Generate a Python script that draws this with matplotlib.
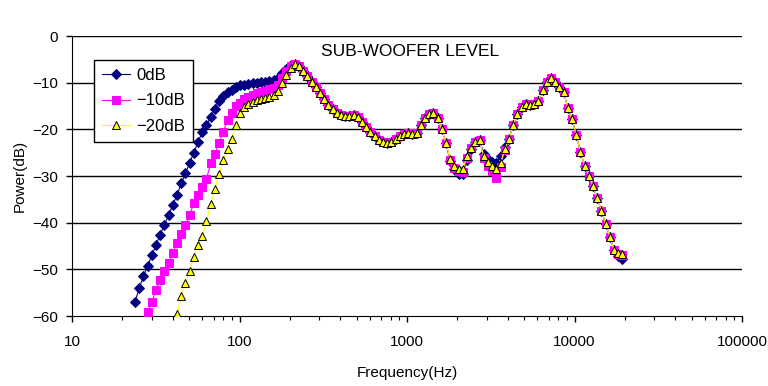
import matplotlib
matplotlib.use('Agg')
import matplotlib.pyplot as plt
from matplotlib.ticker import LogLocator, FixedLocator, NullFormatter

# 周波数 (1/12 oct)
freq = [20.0, 21.2, 22.4, 23.8, 25.2, 26.7, 28.3, 30.0, 31.7, 33.6, 35.6, 37.8,
        40.0, 42.4, 44.9, 47.6, 50.4, 53.4, 56.6, 59.9, 63.5, 67.3, 71.3, 75.5,
        80.0, 84.8, 89.8, 95.1, 100.8, 106.8, 113.1, 119.9, 127.0, 134.5, 142.5, 151.0,
        160.0, 169.5, 179.6, 190.3, 201.6, 213.6, 226.3, 239.7, 254.0, 269.1, 285.1, 302.0,
        320.0, 339.0, 359.2, 380.5, 403.2, 427.1, 452.5, 479.5, 508.0, 538.2, 570.2, 604.1,
        640.0, 678.0, 718.4, 761.1, 806.3, 854.3, 905.1, 958.9, 1016, 1076, 1140, 1208,
        1280, 1356, 1437, 1522, 1613, 1709, 1810, 1918, 2032, 2153, 2281, 2416,
        2560, 2712, 2874, 3044, 3225, 3417, 3620, 3836, 4064, 4305, 4561, 4833,
        5120, 5424, 5747, 6089, 6451, 6834, 7241, 7671, 8127, 8611, 9123, 9665,
        10240, 10849, 11494, 12177, 12902, 13669, 14482, 15343, 16255, 17222, 18246, 19331]

# low frequency part of each series (until ~214 Hz)
low_0db = [-57.0, -54.0, -51.5, -49.2, -47.0, -44.8, -42.6, -40.5, -38.3, -36.2,
           -34.0, -31.6, -29.4, -27.2, -25.0, -22.7, -20.6, -19.1, -17.4, -15.6,
           -13.9, -12.9, -12.1, -11.6, -11.0, -10.6, -10.4, -10.2, -10.1, -10.0,
           -9.9, -9.8, -9.7, -9.5, -9.0, -8.0, -7.0, -6.3, -5.9]
low_10db = [-59.2, -57.0, -54.4, -52.2, -50.3, -48.6, -46.5, -44.4, -42.4, -40.6,
            -38.3, -35.8, -34.0, -32.4, -30.6, -27.3, -25.2, -23.0, -20.5, -18.0,
            -16.5, -15.1, -14.4, -13.6, -13.0, -12.6, -12.3, -12.0, -11.7, -11.4,
            -11.1, -10.4, -9.0, -7.4, -6.5, -6.0]
low_20db = [-59.6, -55.8, -53.0, -50.3, -47.3, -44.8, -42.8, -39.7, -36.0, -32.7,
            -29.6, -26.6, -24.2, -22.0, -19.0, -16.6, -15.2, -14.5, -14.1, -13.8,
            -13.5, -13.3, -13.0, -12.7, -11.8, -10.0, -8.3, -6.8, -6.1]

# shared part 226 Hz - 1.7 kHz
common_a = [-6.4, -7.4, -8.6, -9.8, -11.0, -12.2, -13.6, -14.8, -15.7, -16.5,
            -16.9, -17.2, -17.1, -16.9, -17.3, -18.4, -19.6, -20.6, -21.5, -22.2,
            -22.7, -22.9, -22.7, -22.1, -21.4, -20.9, -20.8, -20.9, -20.7, -19.1,
            -17.5, -16.7, -16.5, -17.6, -20.0, -22.9]

# dips 1.8 kHz - 4 kHz
dips_0db = [-26.8, -28.6, -29.5, -29.6, -26.5, -24.2, -22.8, -22.3, -25.2, -26.4,
            -27.0, -27.3, -25.8, -23.8, -22.0]
dips_10db = [-26.6, -28.2, -29.0, -29.2, -26.2, -24.1, -22.7, -22.2, -26.2, -27.8,
             -29.0, -30.4, -28.0, -24.4, -22.0]
dips_20db = [-26.4, -27.9, -28.5, -28.6, -25.8, -24.0, -22.8, -22.3, -25.8, -27.0,
             -27.8, -28.6, -27.2, -24.2, -22.0]

# shared part 4.3 kHz - 17 kHz
common_b = [-19.0, -16.8, -15.2, -14.6, -14.7, -14.6, -14.0, -11.6, -9.8, -9.0,
            -9.8, -10.9, -12.0, -15.4, -17.8, -21.2, -24.8, -27.9, -29.9, -32.1,
            -34.8, -37.4, -40.2, -43.0, -45.9]

end_0db = [-47.2, -47.8]
end_10db = [-46.7, -47.0]
end_20db = [-46.5, -46.8]

series = [
    ('0dB', low_0db + common_a + dips_0db + common_b + end_0db, '#000080', 'D', '#000080', 5),
    ('\u221210dB', low_10db + common_a + dips_10db + common_b + end_10db, '#FF00FF', 's', '#FF00FF', 5.5),
    ('\u221220dB', low_20db + common_a + dips_20db + common_b + end_20db, '#FFFF00', '^', 'black', 6),
]

plt.rcParams['font.family'] = ['Liberation Sans', 'DejaVu Sans']

fig = plt.figure(figsize=(7.68, 3.86), dpi=100)
ax = fig.add_axes([72 / 768, 1 - 316 / 386, 670 / 768, 280 / 386])

for name, db, color, marker, edge, ms in series:
    f = freq[len(freq) - len(db):]
    ax.plot(f, db, color=color, lw=0.8, marker=marker, markersize=ms,
            markerfacecolor=color, markeredgecolor=edge, markeredgewidth=0.7,
            label=name, zorder=3)

ax.set_xscale('log')
ax.set_xlim(10, 100000)
ax.set_ylim(-60, 0)
ax.xaxis.set_major_locator(FixedLocator([10, 100, 1000, 10000, 100000]))
ax.set_xticklabels(['10', '100', '1000', '10000', '100000'])
ax.xaxis.set_minor_locator(LogLocator(base=10, subs=range(2, 10)))
ax.xaxis.set_minor_formatter(NullFormatter())
ax.set_yticks(range(-60, 1, 10))

for y in range(-50, 1, 10):
    ax.axhline(y, color='black', lw=1, zorder=0)

ax.spines['right'].set_visible(False)
ax.spines['top'].set_visible(False)
ax.tick_params(axis='both', which='major', direction='out', length=4, width=1,
               labelsize=11, pad=6)
ax.tick_params(axis='x', which='minor', direction='out', length=3, width=0.8)
ax.tick_params(axis='x', pad=10)

ax.set_xlabel('Frequency(Hz)', fontsize=11, labelpad=12)
ax.set_ylabel('Power(dB)', fontsize=11, labelpad=4)
ax.text(0.505, 0.945, 'SUB-WOOFER LEVEL', transform=ax.transAxes,
        ha='center', va='center', fontsize=12.5)

leg = ax.legend(loc='upper left', bbox_to_anchor=(0.033, 0.914), borderaxespad=0,
                fontsize=12, frameon=True, fancybox=False, edgecolor='black',
                framealpha=1, handlelength=1.7, borderpad=0.45, labelspacing=0.65,
                handletextpad=0.4)
leg.get_frame().set_linewidth(1)
leg.set_zorder(2)

plt.savefig('out.png', dpi=100)
plt.close()
